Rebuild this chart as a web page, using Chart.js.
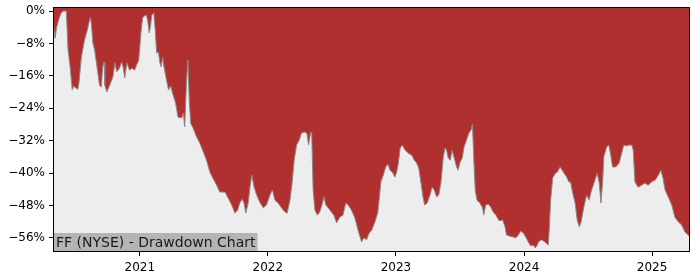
<!DOCTYPE html>
<html lang="en">
<head>
    <meta charset="UTF-8">
    <title>FF (NYSE) - Drawdown Chart</title>
    <script src="https://cdn.jsdelivr.net/npm/chart.js@4.4.1/dist/chart.umd.min.js"></script>
    <style>
        html, body { margin: 0; padding: 0; background: #ffffff; }
        #wrap { width: 700px; height: 280px; }
    </style>
</head>
<body>
<div id="wrap"><canvas id="ddChart" width="700" height="280"></canvas></div>
<script>
    // drawdown from previous high, in %
    const dates = [
        '2020-04-28','2020-05-04','2020-05-08','2020-05-14','2020-05-20','2020-05-26','2020-06-05','2020-06-10',
        '2020-06-16','2020-06-22','2020-06-26','2020-07-02','2020-07-08','2020-07-11','2020-07-18','2020-07-27',
        '2020-08-04','2020-08-09','2020-08-13','2020-08-16','2020-08-20','2020-08-25','2020-08-31','2020-09-08',
        '2020-09-13','2020-09-17','2020-09-21','2020-09-23','2020-09-29','2020-10-07','2020-10-16','2020-10-22',
        '2020-10-27','2020-11-04','2020-11-10','2020-11-15','2020-11-19','2020-11-25','2020-12-03','2020-12-10',
        '2020-12-17','2020-12-23','2020-12-29',
        '2021-01-05','2021-01-09','2021-01-14','2021-01-20','2021-01-24','2021-01-28','2021-02-01','2021-02-04',
        '2021-02-10','2021-02-14','2021-02-18','2021-02-23','2021-02-27','2021-03-03','2021-03-07','2021-03-10',
        '2021-03-18','2021-03-24','2021-03-30','2021-04-04','2021-04-13','2021-04-20','2021-04-30','2021-05-05',
        '2021-05-09','2021-05-14','2021-05-18','2021-05-22','2021-05-26','2021-06-02','2021-06-12','2021-06-21',
        '2021-07-01','2021-07-10','2021-07-20','2021-07-28','2021-08-08','2021-08-17','2021-09-01','2021-09-10',
        '2021-09-20','2021-09-29','2021-10-07','2021-10-13','2021-10-20','2021-10-25','2021-10-30','2021-11-06',
        '2021-11-11','2021-11-16','2021-11-23','2021-11-30','2021-12-09','2021-12-19','2021-12-28',
        '2022-01-07','2022-01-14','2022-01-21','2022-01-30','2022-02-09','2022-02-18','2022-02-25','2022-03-05',
        '2022-03-11','2022-03-17','2022-03-24','2022-03-31','2022-04-07','2022-04-16','2022-04-22','2022-04-27',
        '2022-05-03','2022-05-06','2022-05-10','2022-05-15','2022-05-22','2022-05-29','2022-06-04','2022-06-10',
        '2022-06-15','2022-06-22','2022-07-01','2022-07-08','2022-07-16','2022-07-25','2022-08-03','2022-08-11',
        '2022-08-18','2022-08-27','2022-09-06','2022-09-15','2022-09-25','2022-10-02','2022-10-09','2022-10-17',
        '2022-10-24','2022-11-02','2022-11-10','2022-11-14','2022-11-19','2022-11-26','2022-12-03','2022-12-09',
        '2022-12-15','2022-12-22','2022-12-29',
        '2023-01-03','2023-01-08','2023-01-13','2023-01-19','2023-01-27','2023-02-05','2023-02-15','2023-02-22',
        '2023-03-01','2023-03-07','2023-03-13','2023-03-19','2023-03-24','2023-03-31','2023-04-08','2023-04-14',
        '2023-04-20','2023-04-27','2023-05-03','2023-05-09','2023-05-16','2023-05-21','2023-05-25','2023-05-30',
        '2023-06-05','2023-06-10','2023-06-16','2023-06-23','2023-06-27','2023-07-03','2023-07-09','2023-07-14',
        '2023-07-21','2023-07-28','2023-08-03','2023-08-07','2023-08-11','2023-08-15','2023-08-20','2023-08-28',
        '2023-09-05','2023-09-08','2023-09-14','2023-09-21','2023-09-28','2023-10-05','2023-10-13','2023-10-22',
        '2023-11-01','2023-11-08','2023-11-12','2023-11-22','2023-12-01','2023-12-09','2023-12-16','2023-12-22',
        '2023-12-30',
        '2024-01-07','2024-01-13','2024-01-20','2024-01-28','2024-02-02','2024-02-08','2024-02-11','2024-02-20',
        '2024-03-01','2024-03-10','2024-03-13','2024-03-17','2024-03-23','2024-03-31','2024-04-05','2024-04-13',
        '2024-04-19','2024-04-24','2024-05-02','2024-05-08','2024-05-13','2024-05-19','2024-05-26','2024-06-01',
        '2024-06-07','2024-06-12','2024-06-20','2024-06-28','2024-07-05','2024-07-12','2024-07-22','2024-07-28',
        '2024-08-03','2024-08-08','2024-08-13','2024-08-16','2024-08-24','2024-08-30','2024-09-04','2024-09-10',
        '2024-09-19','2024-09-29','2024-10-06','2024-10-12','2024-10-20','2024-10-28','2024-11-04','2024-11-08',
        '2024-11-13','2024-11-22','2024-12-02','2024-12-11','2024-12-21','2024-12-30',
        '2025-01-10','2025-01-19','2025-01-26','2025-02-01','2025-02-07','2025-02-16','2025-02-26','2025-03-07',
        '2025-03-17','2025-03-26','2025-04-05','2025-04-14','2025-04-19'
    ];
    const drawdown = [
        -2.2, -6.7, -4.2, -2.2, -0.7, 0, 0, -9.6,
        -13.8, -19.5, -18.5, -19.0, -19.3, -17.8, -11.4, -7.2,
        -4.7, -2.7, -1.5, -3.5, -7.9, -9.6, -13.3, -18.3,
        -18.8, -13.8, -12.6, -18.3, -20.0, -18.3, -16.3, -12.8,
        -15.0, -14.1, -12.6, -14.1, -16.5, -12.8, -14.6, -14.1,
        -14.6, -13.3, -12.1,
        -4.7, -1.7, -1.2, -1.0, -2.7, -5.4, -3.5, -1.0,
        -0.5, -4.7, -10.4, -10.1, -12.6, -13.8, -11.4, -13.3,
        -17.0, -19.5, -18.5, -20.2, -22.7, -26.2, -26.4, -25.2,
        -28.6, -17.8, -12.1, -22.0, -27.7, -28.9, -31.1, -32.6,
        -34.8, -36.8, -39.8, -41.2, -43.0, -44.7, -44.7, -46.2,
        -47.9, -49.9, -49.1, -47.4, -46.4, -47.4, -49.9, -47.4,
        -43.5, -40.5, -43.5, -45.4, -47.2, -48.6, -47.9,
        -45.4, -44.2, -46.7, -47.4, -48.6, -49.6, -49.9, -46.7,
        -42.5, -36.8, -33.1, -31.9, -30.1, -29.9, -30.1, -33.1,
        -29.9, -30.1, -44.2, -49.1, -50.4, -49.6, -47.9, -45.9,
        -47.9, -48.6, -49.6, -50.4, -52.3, -50.9, -50.4, -47.4,
        -47.9, -49.1, -51.1, -54.1, -57.0, -56.0, -56.5, -54.8,
        -54.1, -52.1, -49.9, -46.7, -42.2, -40.5, -38.5, -37.8,
        -39.3, -39.8, -41.0,
        -39.8, -37.5, -33.8, -33.1, -34.3, -35.1, -35.6, -36.8,
        -37.5, -38.8, -42.2, -45.9, -47.9, -47.4, -45.4, -43.5,
        -44.2, -45.9, -45.4, -42.5, -36.0, -33.8, -34.3, -36.3,
        -36.8, -34.3, -36.3, -38.5, -39.3, -37.3, -36.3, -33.6,
        -31.9, -30.1, -29.4, -27.9, -36.8, -44.2, -46.7, -47.4,
        -48.6, -50.4, -47.9, -47.7, -48.4, -49.6, -50.4, -51.8,
        -51.6, -53.3, -55.3, -55.6, -55.8, -56.0, -55.3, -54.3,
        -54.8,
        -56.0, -57.0, -58.0, -57.8, -58.5, -57.8, -57.0, -56.5,
        -57.0, -57.8, -54.1, -46.7, -41.2, -40.0, -39.8, -38.5,
        -39.3, -40.0, -41.0, -42.2, -42.2, -44.9, -47.4, -51.6,
        -53.3, -52.1, -48.4, -45.4, -46.7, -44.2, -41.7, -40.0,
        -42.5, -47.4, -41.7, -36.0, -33.6, -33.1, -35.1, -38.5,
        -38.5, -37.5, -35.1, -33.1, -33.3, -33.1, -33.1, -34.3,
        -42.2, -43.5, -43.0, -42.5, -43.0, -42.2,
        -41.7, -40.5, -39.3, -41.2, -44.2, -45.9, -47.9, -50.9,
        -52.1, -52.8, -54.6, -55.3, -55.8
    ];
    const yTicks = [0, -8, -16, -24, -32, -40, -48, -56];
    const xTicks = [2021, 2022, 2023, 2024, 2025];
    const title = 'FF (NYSE) - Drawdown Chart';

    // date string -> fractional year
    function toYear(s) {
        const p = s.split('-').map(Number);
        const start = Date.UTC(p[0], 0, 1);
        const end = Date.UTC(p[0] + 1, 0, 1);
        return p[0] + (Date.UTC(p[0], p[1] - 1, p[2]) - start) / (end - start);
    }

    const points = dates.map((d, i) => ({ x: toYear(d), y: drawdown[i] }));

    const frame = {
        id: 'frame',
        beforeDatasetsDraw(chart) {
            const { ctx, chartArea: a } = chart;
            ctx.save();
            ctx.fillStyle = '#ededed';
            ctx.fillRect(a.left, a.top, a.right - a.left, a.bottom - a.top);
            ctx.restore();
        },
        afterDraw(chart) {
            const { ctx, chartArea: a } = chart;
            ctx.save();
            // title box, bottom left
            ctx.font = '14px "DejaVu Sans"';
            const w = ctx.measureText(title).width;
            ctx.fillStyle = '#b4b4b4';
            ctx.fillRect(a.left, a.bottom - 19, w + 5, 19);
            ctx.fillStyle = '#1a1a1a';
            ctx.textBaseline = 'alphabetic';
            ctx.fillText(title, a.left + 3, a.bottom - 5);
            // axes frame
            ctx.strokeStyle = '#000';
            ctx.lineWidth = 1;
            ctx.strokeRect(a.left + 0.5, a.top + 0.5, a.right - a.left - 1, a.bottom - a.top - 1);
            ctx.restore();
        }
    };

    new Chart(document.getElementById('ddChart').getContext('2d'), {
        type: 'line',
        data: {
            datasets: [{
                data: points,
                fill: 'end',
                backgroundColor: '#b03030',
                borderColor: '#8a8a8a',
                borderWidth: 1,
                pointRadius: 0,
                tension: 0
            }]
        },
        options: {
            responsive: false,
            animation: false,
            layout: { padding: { top: 7, right: 10, left: 0, bottom: 0 } },
            plugins: {
                legend: { display: false },
                tooltip: { enabled: false }
            },
            scales: {
                x: {
                    type: 'linear',
                    min: points[0].x,
                    max: points[points.length - 1].x,
                    afterBuildTicks: (s) => { s.ticks = xTicks.map(v => ({ value: v })); },
                    afterFit: (s) => { s.height = 28; s.paddingLeft = 0; s.paddingRight = 0; },
                    grid: { drawOnChartArea: false, drawTicks: true, tickLength: 4, color: '#000' },
                    border: { display: false },
                    ticks: {
                        color: '#000',
                        padding: 5,
                        maxRotation: 0,
                        font: { family: 'DejaVu Sans', size: 12 },
                        callback: (v) => String(v)
                    }
                },
                y: {
                    min: -59.5,
                    max: 1,
                    afterBuildTicks: (s) => { s.ticks = yTicks.map(v => ({ value: v })); },
                    afterFit: (s) => { s.width = 53; s.paddingTop = 0; s.paddingBottom = 0; },
                    grid: { drawOnChartArea: false, drawTicks: true, tickLength: 4, color: '#000' },
                    border: { display: false },
                    ticks: {
                        color: '#000',
                        padding: 4,
                        font: { family: 'DejaVu Sans', size: 12 },
                        callback: (v) => (v < 0 ? '\u2212' + Math.abs(v) : v) + '%'
                    }
                }
            }
        },
        plugins: [frame]
    });
</script>
</body>
</html>
